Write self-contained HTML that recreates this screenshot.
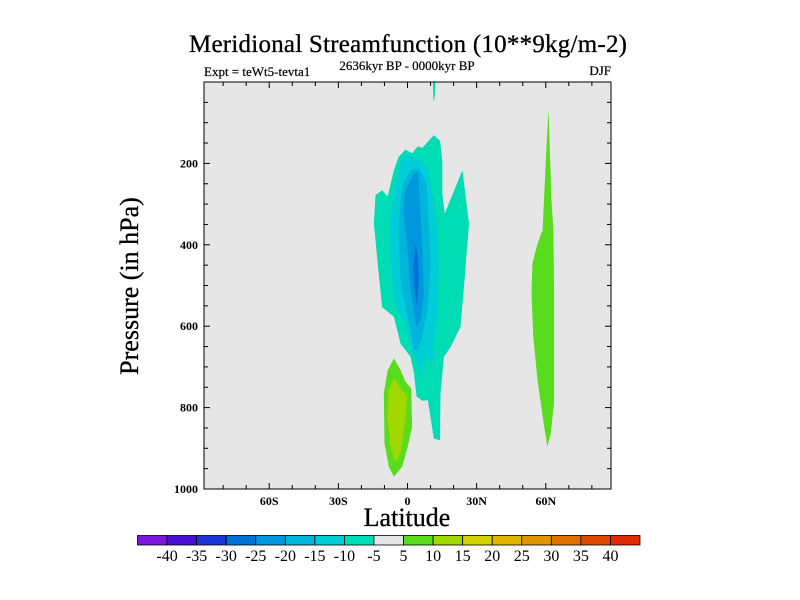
<!DOCTYPE html>
<html><head><meta charset="utf-8"><style>
body{margin:0;background:#fff;}
svg{display:block;font-family:"Liberation Serif",serif;}
</style></head><body>
<svg id="chart" width="800" height="600" viewBox="0 0 800 600">
<rect width="800" height="600" fill="#fff"/>
<text x="408" y="52" font-size="25" text-anchor="middle" textLength="438" stroke="#000" stroke-width="0.3">Meridional Streamfunction (10**9kg/m-2)</text>
<text x="204" y="76" font-size="13" stroke="#000" stroke-width="0.2">Expt = teWt5-tevta1</text>
<text x="407" y="70" font-size="13" text-anchor="middle" stroke="#000" stroke-width="0.2">2636kyr BP - 0000kyr BP</text>
<text x="611" y="75" font-size="13" text-anchor="end" stroke="#000" stroke-width="0.2">DJF</text>
<rect x="204" y="82" width="407" height="407" fill="#e6e6e6"/>
<g id="fills"></g>
<rect x="204" y="82" width="407" height="407" fill="none" stroke="#000" stroke-width="1"/>
<g id="ticks" stroke="#000" stroke-width="1"></g>
<g id="labels" font-size="12" font-weight="bold"></g>
<text x="407" y="526" font-size="26" text-anchor="middle" stroke="#000" stroke-width="0.3">Latitude</text>
<text transform="translate(138,286) rotate(-90)" font-size="26" text-anchor="middle" stroke="#000" stroke-width="0.3">Pressure (in hPa)</text>
<g id="colorbar"></g>
</svg>
<script>
const latMin=-88.3, latMax=88.3, pMin=0, pMax=1000;
const X0=204,X1=611,Y0=82,Y1=489;
function xs(l){return X0+(l-latMin)/(latMax-latMin)*(X1-X0);}
function ys(p){return Y0+(p-pMin)/(pMax-pMin)*(Y1-Y0);}
const levels=[-40,-35,-30,-25,-20,-15,-10,-5,5,10,15,20,25,30,35,40];
const colors=["#7d16db","#4a0fd6","#1d34d6","#0070d8","#0097dc","#00b4dc","#00cdd6","#00dcb4","#e6e6e6","#5adc1e","#a0d800","#d2d200","#e0b400","#e09600","#e07000","#e04a00","#e02a00"];
const xTickVals=[-60,-30,0,30,60];
const xTickLabels=["60S","30S","0","30N","60N"];
const yTickVals=[200,400,600,800,1000];
const regionNeg5=[[-3.8,184],[-0.9,166],[2.0,175],[4.5,158],[6.4,162],[11.4,131],[14.1,144],[15.1,193],[15.1,274],[16.2,323],[23.8,217],[26.7,348],[24.5,503],[23.0,602],[18.7,651],[15.8,675],[14.3,765],[14.1,880],[11.4,876],[9.7,814],[8.8,782],[6.4,783],[3.9,772],[2.8,716],[1.3,675],[-3.0,643],[-5.9,577],[-11.0,553],[-12.5,471],[-14.6,348],[-13.9,278],[-11.0,266],[-8.6,281],[-5.9,217]];
const regionNeg10=[[-3.0,193],[1.3,180],[4.2,188],[8.6,209],[11.4,291],[12.9,373],[13.6,454],[12.9,569],[11.4,651],[10.7,700],[8.6,667],[5.7,716],[3.5,684],[1.3,643],[-1.6,585],[-5.2,553],[-7.4,438],[-7.7,340],[-5.9,274]];
const regionNeg15=[[-1.9,250],[1.3,217],[4.9,213],[8.3,250],[9.3,356],[10.0,454],[8.6,561],[6.4,626],[4.5,659],[2.8,659],[1.3,610],[-0.9,553],[-3.0,487],[-3.8,373],[-3.0,291]];
const regionNeg20=[[-0.1,258],[2.8,225],[4.5,221],[5.4,291],[6.4,405],[7.1,520],[5.7,585],[3.9,602],[2.8,569],[1.3,503],[-0.1,405],[-1.6,323],[-1.3,274]];
const regionNeg25=[[3.5,397],[4.5,430],[4.9,487],[4.2,552],[3.2,520],[2.5,454]];
const regionPos5Eq=[[-5.9,679],[-3.0,708],[-0.9,736],[1.6,753],[2.0,847],[0.1,896],[-2.3,945],[-5.9,970],[-8.1,945],[-10.0,888],[-10.3,765],[-8.6,708]];
const regionPos10Eq=[[-5.9,728],[-2.3,757],[-0.1,773],[-1.3,847],[-3.0,912],[-5.2,933],[-7.4,896],[-8.8,822],[-8.1,757]];
const regionPos5N=[[61.2,66],[61.9,193],[62.5,291],[63.3,364],[63.6,520],[63.6,786],[62.2,863],[60.7,896],[59.3,847],[56.4,733],[54.6,626],[53.8,520],[54.2,446],[56.4,397],[58.6,364],[60.0,193]];
const regionTopStreak=[[11.0,0],[12.0,0],[11.9,30],[11.5,49],[11.2,40]];
const regions=[[7,regionNeg5,"region-neg5"],[6,regionNeg10,"region-neg10"],[5,regionNeg15,"region-neg15"],[4,regionNeg20,"region-neg20"],[3,regionNeg25,"region-neg25"],[9,regionPos5Eq,"region-pos5-equator"],[10,regionPos10Eq,"region-pos10-equator"],[9,regionPos5N,"region-pos5-60n"],[7,regionTopStreak,"region-top-streak"]];
const NS="http://www.w3.org/2000/svg";
const fills=document.getElementById('fills');
regions.forEach(r=>{
  const pg=document.createElementNS(NS,'polygon');
  pg.setAttribute('points',r[1].map(q=>xs(q[0]).toFixed(1)+','+ys(q[1]).toFixed(1)).join(' '));
  pg.setAttribute('fill',colors[r[0]]);
  
  
  fills.appendChild(pg);
});
const ticks=document.getElementById('ticks');
function line(x1,y1,x2,y2,n){const l=document.createElementNS(NS,'line');l.setAttribute('x1',x1);l.setAttribute('y1',y1);l.setAttribute('x2',x2);l.setAttribute('y2',y2);


ticks.appendChild(l);}
for(let l=-80;l<=80;l+=10){const x=xs(l),len=(l%30===0)?6:4;line(x,Y1,x,Y1-len,'x-tick');line(x,Y0,x,Y0+len,'x-tick-top');}
for(let p=50;p<1000;p+=50){const y=ys(p),len=(p%200===0)?6:4;line(X0,y,X0+len,y,'y-tick');line(X1,y,X1-len,y,'y-tick-right');}
const labels=document.getElementById('labels');
function txt(x,y,s,a,n,g,fs){const t=document.createElementNS(NS,'text');t.setAttribute('x',x);t.setAttribute('y',y);t.setAttribute('text-anchor',a);if(fs)t.setAttribute('font-size',fs);t.textContent=s;


(g||labels).appendChild(t);}
xTickVals.forEach((v,i)=>txt(xs(v),505,xTickLabels[i],'middle','x-tick-label'));
yTickVals.forEach(v=>txt(X0-6,ys(v)+4,String(v),'end','y-tick-label'));
const cb=document.getElementById('colorbar');
const cbX0=137.5,cbX1=640,cbY=535.5,cbH=9.5,bw=(cbX1-cbX0)/colors.length;
colors.forEach((c,i)=>{const r=document.createElementNS(NS,'rect');r.setAttribute('x',cbX0+i*bw);r.setAttribute('y',cbY);r.setAttribute('width',bw);r.setAttribute('height',cbH);r.setAttribute('fill',c);r.setAttribute('stroke','#000');r.setAttribute('stroke-width','0.8');


cb.appendChild(r);});
levels.forEach((v,i)=>txt(cbX0+(i+1)*bw,561,String(v),'middle','colorbar-label',cb,'16'));
</script>
</body></html>
